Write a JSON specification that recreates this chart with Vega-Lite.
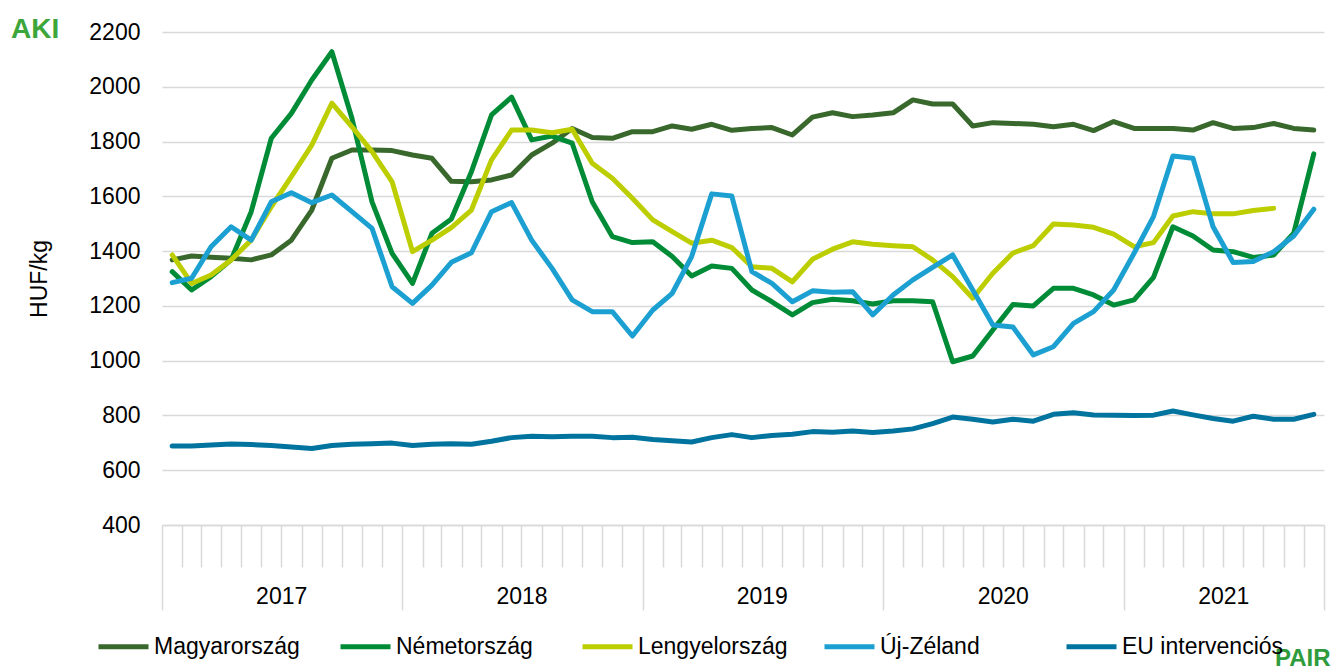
{
  "$schema": "https://vega.github.io/schema/vega-lite/v6.json",
  "width": 1162,
  "height": 493,
  "autosize": {"type": "none"},
  "padding": {"left": 162, "top": 32, "right": 14, "bottom": 146},
  "background": "white",
  "title": {"text": "AKI", "anchor": "start", "frame": "group", "dx": -151, "dy": 45, "offset": 0, "baseline": "alphabetic", "fontSize": 28, "fontWeight": "bold", "color": "#3DA63A", "font": "Liberation Sans"},
  "config": {
    "font": "Liberation Sans",
    "view": {"stroke": null},
    "axis": {"labelColor": "#000000", "titleColor": "#000000", "labelFont": "Liberation Sans", "titleFont": "Liberation Sans"},
    "legend": {"labelColor": "#000000", "labelFont": "Liberation Sans"}
  },
  "data": {"values": [
    {"d":"2017-01","s":"Magyarország","v":1368},{"d":"2017-02","s":"Magyarország","v":1382},{"d":"2017-03","s":"Magyarország","v":1378},{"d":"2017-04","s":"Magyarország","v":1374},{"d":"2017-05","s":"Magyarország","v":1368},{"d":"2017-06","s":"Magyarország","v":1386},{"d":"2017-07","s":"Magyarország","v":1440},{"d":"2017-08","s":"Magyarország","v":1550},{"d":"2017-09","s":"Magyarország","v":1739},{"d":"2017-10","s":"Magyarország","v":1769},{"d":"2017-11","s":"Magyarország","v":1769},{"d":"2017-12","s":"Magyarország","v":1767},
    {"d":"2018-01","s":"Magyarország","v":1751},{"d":"2018-02","s":"Magyarország","v":1739},{"d":"2018-03","s":"Magyarország","v":1655},{"d":"2018-04","s":"Magyarország","v":1653},{"d":"2018-05","s":"Magyarország","v":1660},{"d":"2018-06","s":"Magyarország","v":1678},{"d":"2018-07","s":"Magyarország","v":1751},{"d":"2018-08","s":"Magyarország","v":1794},{"d":"2018-09","s":"Magyarország","v":1848},{"d":"2018-10","s":"Magyarország","v":1815},{"d":"2018-11","s":"Magyarország","v":1812},{"d":"2018-12","s":"Magyarország","v":1836},
    {"d":"2019-01","s":"Magyarország","v":1836},{"d":"2019-02","s":"Magyarország","v":1857},{"d":"2019-03","s":"Magyarország","v":1845},{"d":"2019-04","s":"Magyarország","v":1863},{"d":"2019-05","s":"Magyarország","v":1841},{"d":"2019-06","s":"Magyarország","v":1848},{"d":"2019-07","s":"Magyarország","v":1851},{"d":"2019-08","s":"Magyarország","v":1824},{"d":"2019-09","s":"Magyarország","v":1889},{"d":"2019-10","s":"Magyarország","v":1905},{"d":"2019-11","s":"Magyarország","v":1891},{"d":"2019-12","s":"Magyarország","v":1897},
    {"d":"2020-01","s":"Magyarország","v":1905},{"d":"2020-02","s":"Magyarország","v":1952},{"d":"2020-03","s":"Magyarország","v":1937},{"d":"2020-04","s":"Magyarország","v":1937},{"d":"2020-05","s":"Magyarország","v":1857},{"d":"2020-06","s":"Magyarország","v":1869},{"d":"2020-07","s":"Magyarország","v":1866},{"d":"2020-08","s":"Magyarország","v":1863},{"d":"2020-09","s":"Magyarország","v":1854},{"d":"2020-10","s":"Magyarország","v":1863},{"d":"2020-11","s":"Magyarország","v":1840},{"d":"2020-12","s":"Magyarország","v":1873},
    {"d":"2021-01","s":"Magyarország","v":1848},{"d":"2021-02","s":"Magyarország","v":1848},{"d":"2021-03","s":"Magyarország","v":1848},{"d":"2021-04","s":"Magyarország","v":1842},{"d":"2021-05","s":"Magyarország","v":1869},{"d":"2021-06","s":"Magyarország","v":1848},{"d":"2021-07","s":"Magyarország","v":1851},{"d":"2021-08","s":"Magyarország","v":1866},{"d":"2021-09","s":"Magyarország","v":1848},{"d":"2021-10","s":"Magyarország","v":1842},

    {"d":"2017-01","s":"Németország","v":1325},{"d":"2017-02","s":"Németország","v":1258},{"d":"2017-03","s":"Németország","v":1307},{"d":"2017-04","s":"Németország","v":1368},{"d":"2017-05","s":"Németország","v":1544},{"d":"2017-06","s":"Németország","v":1812},{"d":"2017-07","s":"Németország","v":1903},{"d":"2017-08","s":"Németország","v":2025},{"d":"2017-09","s":"Németország","v":2128},{"d":"2017-10","s":"Németország","v":1885},{"d":"2017-11","s":"Németország","v":1580},{"d":"2017-12","s":"Németország","v":1392},
    {"d":"2018-01","s":"Németország","v":1282},{"d":"2018-02","s":"Németország","v":1465},{"d":"2018-03","s":"Németország","v":1517},{"d":"2018-04","s":"Németország","v":1690},{"d":"2018-05","s":"Németország","v":1897},{"d":"2018-06","s":"Németország","v":1962},{"d":"2018-07","s":"Németország","v":1806},{"d":"2018-08","s":"Németország","v":1820},{"d":"2018-09","s":"Németország","v":1794},{"d":"2018-10","s":"Németország","v":1580},{"d":"2018-11","s":"Németország","v":1453},{"d":"2018-12","s":"Németország","v":1431},
    {"d":"2019-01","s":"Németország","v":1434},{"d":"2019-02","s":"Németország","v":1380},{"d":"2019-03","s":"Németország","v":1309},{"d":"2019-04","s":"Németország","v":1346},{"d":"2019-05","s":"Németország","v":1337},{"d":"2019-06","s":"Németország","v":1258},{"d":"2019-07","s":"Németország","v":1215},{"d":"2019-08","s":"Németország","v":1167},{"d":"2019-09","s":"Németország","v":1212},{"d":"2019-10","s":"Németország","v":1224},{"d":"2019-11","s":"Németország","v":1219},{"d":"2019-12","s":"Németország","v":1207},
    {"d":"2020-01","s":"Németország","v":1219},{"d":"2020-02","s":"Németország","v":1219},{"d":"2020-03","s":"Németország","v":1215},{"d":"2020-04","s":"Németország","v":996},{"d":"2020-05","s":"Németország","v":1017},{"d":"2020-06","s":"Németország","v":1112},{"d":"2020-07","s":"Németország","v":1205},{"d":"2020-08","s":"Németország","v":1200},{"d":"2020-09","s":"Németország","v":1264},{"d":"2020-10","s":"Németország","v":1264},{"d":"2020-11","s":"Németország","v":1240},{"d":"2020-12","s":"Németország","v":1203},
    {"d":"2021-01","s":"Németország","v":1222},{"d":"2021-02","s":"Németország","v":1304},{"d":"2021-03","s":"Németország","v":1489},{"d":"2021-04","s":"Németország","v":1455},{"d":"2021-05","s":"Németország","v":1404},{"d":"2021-06","s":"Németország","v":1398},{"d":"2021-07","s":"Németország","v":1377},{"d":"2021-08","s":"Németország","v":1386},{"d":"2021-09","s":"Németország","v":1465},{"d":"2021-10","s":"Németország","v":1755},

    {"d":"2017-01","s":"Lengyelország","v":1386},{"d":"2017-02","s":"Lengyelország","v":1282},{"d":"2017-03","s":"Lengyelország","v":1313},{"d":"2017-04","s":"Lengyelország","v":1368},{"d":"2017-05","s":"Lengyelország","v":1440},{"d":"2017-06","s":"Lengyelország","v":1562},{"d":"2017-07","s":"Lengyelország","v":1672},{"d":"2017-08","s":"Lengyelország","v":1787},{"d":"2017-09","s":"Lengyelország","v":1940},{"d":"2017-10","s":"Lengyelország","v":1854},{"d":"2017-11","s":"Lengyelország","v":1763},{"d":"2017-12","s":"Lengyelország","v":1653},
    {"d":"2018-01","s":"Lengyelország","v":1398},{"d":"2018-02","s":"Lengyelország","v":1440},{"d":"2018-03","s":"Lengyelország","v":1486},{"d":"2018-04","s":"Lengyelország","v":1550},{"d":"2018-05","s":"Lengyelország","v":1733},{"d":"2018-06","s":"Lengyelország","v":1842},{"d":"2018-07","s":"Lengyelország","v":1842},{"d":"2018-08","s":"Lengyelország","v":1832},{"d":"2018-09","s":"Lengyelország","v":1845},{"d":"2018-10","s":"Lengyelország","v":1721},{"d":"2018-11","s":"Lengyelország","v":1666},{"d":"2018-12","s":"Lengyelország","v":1593},
    {"d":"2019-01","s":"Lengyelország","v":1514},{"d":"2019-02","s":"Lengyelország","v":1471},{"d":"2019-03","s":"Lengyelország","v":1429},{"d":"2019-04","s":"Lengyelország","v":1440},{"d":"2019-05","s":"Lengyelország","v":1413},{"d":"2019-06","s":"Lengyelország","v":1343},{"d":"2019-07","s":"Lengyelország","v":1337},{"d":"2019-08","s":"Lengyelország","v":1288},{"d":"2019-09","s":"Lengyelország","v":1370},{"d":"2019-10","s":"Lengyelország","v":1407},{"d":"2019-11","s":"Lengyelország","v":1434},{"d":"2019-12","s":"Lengyelország","v":1425},
    {"d":"2020-01","s":"Lengyelország","v":1420},{"d":"2020-02","s":"Lengyelország","v":1416},{"d":"2020-03","s":"Lengyelország","v":1368},{"d":"2020-04","s":"Lengyelország","v":1307},{"d":"2020-05","s":"Lengyelország","v":1228},{"d":"2020-06","s":"Lengyelország","v":1319},{"d":"2020-07","s":"Lengyelország","v":1393},{"d":"2020-08","s":"Lengyelország","v":1420},{"d":"2020-09","s":"Lengyelország","v":1499},{"d":"2020-10","s":"Lengyelország","v":1495},{"d":"2020-11","s":"Lengyelország","v":1487},{"d":"2020-12","s":"Lengyelország","v":1462},
    {"d":"2021-01","s":"Lengyelország","v":1416},{"d":"2021-02","s":"Lengyelország","v":1431},{"d":"2021-03","s":"Lengyelország","v":1528},{"d":"2021-04","s":"Lengyelország","v":1544},{"d":"2021-05","s":"Lengyelország","v":1536},{"d":"2021-06","s":"Lengyelország","v":1536},{"d":"2021-07","s":"Lengyelország","v":1548},{"d":"2021-08","s":"Lengyelország","v":1556},

    {"d":"2017-01","s":"Új-Zéland","v":1285},{"d":"2017-02","s":"Új-Zéland","v":1301},{"d":"2017-03","s":"Új-Zéland","v":1416},{"d":"2017-04","s":"Új-Zéland","v":1489},{"d":"2017-05","s":"Új-Zéland","v":1440},{"d":"2017-06","s":"Új-Zéland","v":1580},{"d":"2017-07","s":"Új-Zéland","v":1613},{"d":"2017-08","s":"Új-Zéland","v":1577},{"d":"2017-09","s":"Új-Zéland","v":1605},{"d":"2017-10","s":"Új-Zéland","v":1544},{"d":"2017-11","s":"Új-Zéland","v":1483},{"d":"2017-12","s":"Új-Zéland","v":1270},
    {"d":"2018-01","s":"Új-Zéland","v":1209},{"d":"2018-02","s":"Új-Zéland","v":1276},{"d":"2018-03","s":"Új-Zéland","v":1359},{"d":"2018-04","s":"Új-Zéland","v":1394},{"d":"2018-05","s":"Új-Zéland","v":1544},{"d":"2018-06","s":"Új-Zéland","v":1577},{"d":"2018-07","s":"Új-Zéland","v":1440},{"d":"2018-08","s":"Új-Zéland","v":1337},{"d":"2018-09","s":"Új-Zéland","v":1222},{"d":"2018-10","s":"Új-Zéland","v":1179},{"d":"2018-11","s":"Új-Zéland","v":1179},{"d":"2018-12","s":"Új-Zéland","v":1090},
    {"d":"2019-01","s":"Új-Zéland","v":1185},{"d":"2019-02","s":"Új-Zéland","v":1246},{"d":"2019-03","s":"Új-Zéland","v":1380},{"d":"2019-04","s":"Új-Zéland","v":1609},{"d":"2019-05","s":"Új-Zéland","v":1601},{"d":"2019-06","s":"Új-Zéland","v":1325},{"d":"2019-07","s":"Új-Zéland","v":1282},{"d":"2019-08","s":"Új-Zéland","v":1215},{"d":"2019-09","s":"Új-Zéland","v":1255},{"d":"2019-10","s":"Új-Zéland","v":1250},{"d":"2019-11","s":"Új-Zéland","v":1252},{"d":"2019-12","s":"Új-Zéland","v":1167},
    {"d":"2020-01","s":"Új-Zéland","v":1240},{"d":"2020-02","s":"Új-Zéland","v":1295},{"d":"2020-03","s":"Új-Zéland","v":1341},{"d":"2020-04","s":"Új-Zéland","v":1386},{"d":"2020-05","s":"Új-Zéland","v":1258},{"d":"2020-06","s":"Új-Zéland","v":1130},{"d":"2020-07","s":"Új-Zéland","v":1123},{"d":"2020-08","s":"Új-Zéland","v":1021},{"d":"2020-09","s":"Új-Zéland","v":1051},{"d":"2020-10","s":"Új-Zéland","v":1136},{"d":"2020-11","s":"Új-Zéland","v":1179},{"d":"2020-12","s":"Új-Zéland","v":1258},
    {"d":"2021-01","s":"Új-Zéland","v":1392},{"d":"2021-02","s":"Új-Zéland","v":1526},{"d":"2021-03","s":"Új-Zéland","v":1747},{"d":"2021-04","s":"Új-Zéland","v":1739},{"d":"2021-05","s":"Új-Zéland","v":1489},{"d":"2021-06","s":"Új-Zéland","v":1358},{"d":"2021-07","s":"Új-Zéland","v":1362},{"d":"2021-08","s":"Új-Zéland","v":1398},{"d":"2021-09","s":"Új-Zéland","v":1455},{"d":"2021-10","s":"Új-Zéland","v":1553},

    {"d":"2017-01","s":"EU intervenciós","v":688},{"d":"2017-02","s":"EU intervenciós","v":688},{"d":"2017-03","s":"EU intervenciós","v":692},{"d":"2017-04","s":"EU intervenciós","v":696},{"d":"2017-05","s":"EU intervenciós","v":694},{"d":"2017-06","s":"EU intervenciós","v":690},{"d":"2017-07","s":"EU intervenciós","v":685},{"d":"2017-08","s":"EU intervenciós","v":679},{"d":"2017-09","s":"EU intervenciós","v":690},{"d":"2017-10","s":"EU intervenciós","v":695},{"d":"2017-11","s":"EU intervenciós","v":697},{"d":"2017-12","s":"EU intervenciós","v":699},
    {"d":"2018-01","s":"EU intervenciós","v":690},{"d":"2018-02","s":"EU intervenciós","v":695},{"d":"2018-03","s":"EU intervenciós","v":697},{"d":"2018-04","s":"EU intervenciós","v":695},{"d":"2018-05","s":"EU intervenciós","v":706},{"d":"2018-06","s":"EU intervenciós","v":719},{"d":"2018-07","s":"EU intervenciós","v":724},{"d":"2018-08","s":"EU intervenciós","v":722},{"d":"2018-09","s":"EU intervenciós","v":724},{"d":"2018-10","s":"EU intervenciós","v":724},{"d":"2018-11","s":"EU intervenciós","v":719},{"d":"2018-12","s":"EU intervenciós","v":720},
    {"d":"2019-01","s":"EU intervenciós","v":712},{"d":"2019-02","s":"EU intervenciós","v":708},{"d":"2019-03","s":"EU intervenciós","v":703},{"d":"2019-04","s":"EU intervenciós","v":719},{"d":"2019-05","s":"EU intervenciós","v":730},{"d":"2019-06","s":"EU intervenciós","v":719},{"d":"2019-07","s":"EU intervenciós","v":727},{"d":"2019-08","s":"EU intervenciós","v":731},{"d":"2019-09","s":"EU intervenciós","v":741},{"d":"2019-10","s":"EU intervenciós","v":739},{"d":"2019-11","s":"EU intervenciós","v":743},{"d":"2019-12","s":"EU intervenciós","v":738},
    {"d":"2020-01","s":"EU intervenciós","v":743},{"d":"2020-02","s":"EU intervenciós","v":751},{"d":"2020-03","s":"EU intervenciós","v":770},{"d":"2020-04","s":"EU intervenciós","v":794},{"d":"2020-05","s":"EU intervenciós","v":786},{"d":"2020-06","s":"EU intervenciós","v":776},{"d":"2020-07","s":"EU intervenciós","v":786},{"d":"2020-08","s":"EU intervenciós","v":779},{"d":"2020-09","s":"EU intervenciós","v":804},{"d":"2020-10","s":"EU intervenciós","v":810},{"d":"2020-11","s":"EU intervenciós","v":802},{"d":"2020-12","s":"EU intervenciós","v":801},
    {"d":"2021-01","s":"EU intervenciós","v":800},{"d":"2021-02","s":"EU intervenciós","v":801},{"d":"2021-03","s":"EU intervenciós","v":816},{"d":"2021-04","s":"EU intervenciós","v":802},{"d":"2021-05","s":"EU intervenciós","v":789},{"d":"2021-06","s":"EU intervenciós","v":779},{"d":"2021-07","s":"EU intervenciós","v":797},{"d":"2021-08","s":"EU intervenciós","v":786},{"d":"2021-09","s":"EU intervenciós","v":786},{"d":"2021-10","s":"EU intervenciós","v":804}
  ]},
  "mark": {"type": "line", "strokeWidth": 5, "strokeCap": "round", "strokeJoin": "round"},
  "encoding": {
    "x": {
      "field": "d", "type": "temporal", "timeUnit": "utcyearmonth", "bandPosition": 0.5,
      "scale": {"type": "utc", "nice": false, "domain": [{"year": 2017, "month": 1, "date": 1, "utc": true}, {"year": 2021, "month": 11, "date": 1, "utc": true}]},
      "axis": {
        "title": "PAIR", "titleAlign": "right", "titleBaseline": "top", "titleX": 1168, "titleY": 121, "titleAngle": 0,
        "titleFontSize": 24, "titleFontWeight": "bold", "titleColor": "#2E9B3C",
        "grid": false,
        "tickCount": {"interval": "month", "step": 1},
        "tickSize": {"condition": {"test": "utcmonth(datum.value) == 0 || (utcyear(datum.value) == 2021 && utcmonth(datum.value) == 10)", "value": 85}, "value": 42},
        "tickColor": "#D9D9D9", "tickWidth": 1.5,
        "domainColor": "#D9D9D9", "domainWidth": 1.5,
        "labelExpr": "((utcyear(datum.value) < 2021 && utcmonth(datum.value) == 6) || (utcyear(datum.value) == 2021 && utcmonth(datum.value) == 5)) ? utcFormat(datum.value, '%Y') : ''",
        "labelFontSize": 23, "labelPadding": 18, "labelOverlap": false, "labelFlush": false, "labelBound": false
      }
    },
    "y": {
      "field": "v", "type": "quantitative",
      "scale": {"domain": [400, 2200], "nice": false, "zero": false},
      "axis": {
        "title": "HUF/kg", "titleFontSize": 23, "titleFontWeight": "normal", "titlePadding": 37,
        "values": [400, 600, 800, 1000, 1200, 1400, 1600, 1800, 2000, 2200],
        "format": "d",
        "grid": true, "gridColor": "#D9D9D9", "gridWidth": 1.5,
        "domain": false, "ticks": false,
        "labelFontSize": 23, "labelPadding": 22
      }
    },
    "color": {
      "field": "s", "type": "nominal",
      "scale": {"domain": ["Magyarország", "Németország", "Lengyelország", "Új-Zéland", "EU intervenciós"], "range": ["#38682C", "#008C36", "#BCCE00", "#1CA0D2", "#00749E"]},
      "legend": {
        "title": null, "orient": "none", "legendX": -66, "legendY": 587, "direction": "horizontal", "columns": 5, "gridAlign": "all", "columnPadding": 14,
        "symbolType": "stroke", "symbolSize": 2500, "symbolStrokeWidth": 5,
        "labelFontSize": 23, "labelOffset": 3, "labelLimit": 300, "padding": 0
      }
    }
  }
}
